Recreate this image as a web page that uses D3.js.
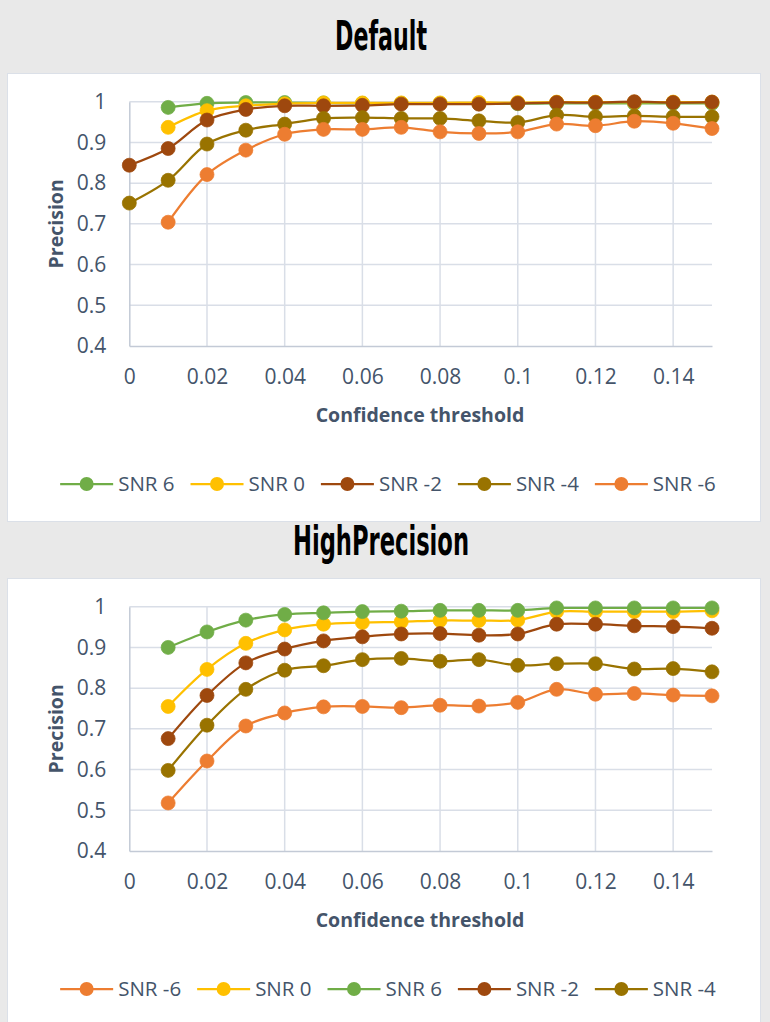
<!DOCTYPE html>
<html>
<head>
<meta charset="utf-8">
<script src="https://cdn.jsdelivr.net/npm/d3@7"></script>
<style>
  html, body { margin: 0; padding: 0; background: #e9e9e9; }
  svg { display: block; }
</style>
</head>
<body>
<svg id="chart" width="770" height="1022"></svg>
<script>
// Confidence thresholds on the x axis
const thresholds = [0, 0.01, 0.02, 0.03, 0.04, 0.05, 0.06, 0.07, 0.08, 0.09, 0.10, 0.11, 0.12, 0.13, 0.14, 0.15];

// Axis ticks
const xTickValues = [0, 0.02, 0.04, 0.06, 0.08, 0.10, 0.12, 0.14];
const xTickLabels = ["0", "0.02", "0.04", "0.06", "0.08", "0.1", "0.12", "0.14"];
const yTickValues = [0.4, 0.5, 0.6, 0.7, 0.8, 0.9, 1.0];
const yTickLabels = ["0.4", "0.5", "0.6", "0.7", "0.8", "0.9", "1"];

// Precision, "Default" model
const defaultSnr6  = [null, 0.986, 0.996, 0.998, 0.998, 0.997, 0.996, 0.996, 0.996, 0.995, 0.995, 0.996, 0.996, 0.996, 0.996, 0.996];
const defaultSnr0  = [null, 0.937, 0.978, 0.990, 0.995, 0.997, 0.997, 0.997, 0.997, 0.998, 0.998, 0.999, 0.999, 0.999, 0.999, 0.999];
const defaultSnrM2 = [0.844, 0.885, 0.955, 0.981, 0.990, 0.990, 0.991, 0.994, 0.994, 0.994, 0.996, 0.998, 0.998, 1.000, 0.998, 0.999];
const defaultSnrM4 = [0.751, 0.807, 0.896, 0.930, 0.945, 0.959, 0.961, 0.959, 0.959, 0.953, 0.949, 0.967, 0.963, 0.965, 0.963, 0.963];
const defaultSnrM6 = [null, 0.704, 0.821, 0.881, 0.920, 0.932, 0.932, 0.937, 0.926, 0.922, 0.926, 0.945, 0.941, 0.952, 0.947, 0.934];

// Precision, "HighPrecision" model
const highSnrM6 = [null, 0.518, 0.621, 0.707, 0.739, 0.754, 0.755, 0.752, 0.758, 0.756, 0.765, 0.797, 0.785, 0.787, 0.783, 0.781];
const highSnr0  = [null, 0.755, 0.846, 0.910, 0.943, 0.957, 0.961, 0.963, 0.966, 0.966, 0.967, 0.988, 0.988, 0.988, 0.988, 0.990];
const highSnr6  = [null, 0.900, 0.938, 0.967, 0.981, 0.985, 0.988, 0.989, 0.991, 0.991, 0.991, 0.997, 0.997, 0.997, 0.997, 0.997];
const highSnrM2 = [null, 0.676, 0.782, 0.862, 0.896, 0.916, 0.926, 0.933, 0.934, 0.930, 0.933, 0.957, 0.957, 0.953, 0.951, 0.947];
const highSnrM4 = [null, 0.598, 0.709, 0.797, 0.844, 0.855, 0.870, 0.873, 0.866, 0.870, 0.856, 0.860, 0.860, 0.847, 0.848, 0.840];

// Series colours
const colors = {
  "SNR 6": "#70ad47",
  "SNR 0": "#ffc000",
  "SNR -2": "#9e480e",
  "SNR -4": "#997300",
  "SNR -6": "#ed7d31"
};

const charts = [
  {
    title: "Default",
    offset: 0,
    series: [
      { name: "SNR 6", values: defaultSnr6 },
      { name: "SNR 0", values: defaultSnr0 },
      { name: "SNR -2", values: defaultSnrM2 },
      { name: "SNR -4", values: defaultSnrM4 },
      { name: "SNR -6", values: defaultSnrM6 }
    ]
  },
  {
    title: "HighPrecision",
    offset: 505,
    series: [
      { name: "SNR -6", values: highSnrM6 },
      { name: "SNR 0", values: highSnr0 },
      { name: "SNR 6", values: highSnr6 },
      { name: "SNR -2", values: highSnrM2 },
      { name: "SNR -4", values: highSnrM4 }
    ]
  }
];

const svg = d3.select("#chart");
const textColor = "#44546a";
const gridColor = "#d9dee7";
const axisColor = "#c3cad6";
const labelFont = "'Open Sans', 'Noto Sans', 'DejaVu Sans', sans-serif";
const titleFont = "'Liberation Sans Narrow', 'DejaVu Sans Condensed', Roboto, 'Liberation Sans', sans-serif";

svg.append("rect").attr("width", 770).attr("height", 1022).attr("fill", "#e9e9e9");

const x = d3.scaleLinear().domain([0, 0.15]).range([129.3, 712]);

charts.forEach(chart => {
  const off = chart.offset;
  const g = svg.append("g").attr("transform", `translate(0,${off})`);

  // Panel
  g.append("rect")
    .attr("x", 7.5).attr("y", 73.5)
    .attr("width", 753).attr("height", 448)
    .attr("fill", "#ffffff")
    .attr("stroke", "#dbe0e8").attr("stroke-width", 1);

  // Title
  g.append("text")
    .attr("x", 381).attr("y", 50)
    .attr("text-anchor", "middle")
    .attr("font-family", titleFont)
    .attr("font-weight", "bold")
    .attr("font-size", 41)
    .attr("fill", "#000000")
    .attr("textLength", chart.title === "Default" ? 92 : 176)
    .attr("lengthAdjust", "spacingAndGlyphs")
    .text(chart.title);

  const y = d3.scaleLinear().domain([0.4, 1]).range([346, 101.7]);

  // Horizontal gridlines
  g.append("g").selectAll("line")
    .data(yTickValues.filter(v => v > 0.4))
    .join("line")
    .attr("x1", x(0)).attr("x2", x(0.15))
    .attr("y1", d => y(d)).attr("y2", d => y(d))
    .attr("stroke", gridColor).attr("stroke-width", 1.5);

  // Vertical gridlines
  g.append("g").selectAll("line")
    .data(xTickValues.filter(v => v > 0))
    .join("line")
    .attr("x1", d => x(d)).attr("x2", d => x(d))
    .attr("y1", y(1)).attr("y2", y(0.4))
    .attr("stroke", gridColor).attr("stroke-width", 1.5);

  // Axes
  const yAxis = d3.axisLeft(y)
    .tickValues(yTickValues)
    .tickFormat((d, i) => yTickLabels[i])
    .tickSize(0).tickPadding(23);
  const yg = g.append("g").attr("transform", `translate(${x(0)},0)`).call(yAxis);
  yg.select(".domain").attr("stroke", axisColor).attr("stroke-width", 1.5);
  yg.selectAll("text")
    .attr("font-family", labelFont).attr("font-size", 21)
    .attr("fill", textColor);

  const xAxis = d3.axisBottom(x)
    .tickValues(xTickValues)
    .tickFormat((d, i) => xTickLabels[i])
    .tickSize(0).tickPadding(23);
  const xg = g.append("g").attr("transform", `translate(0,${y(0.4)})`).call(xAxis);
  xg.select(".domain").attr("stroke", axisColor).attr("stroke-width", 1.5);
  xg.selectAll("text")
    .attr("font-family", labelFont).attr("font-size", 21)
    .attr("fill", textColor);

  // Axis titles
  g.append("text")
    .attr("transform", `translate(63,${(y(1) + y(0.4)) / 2}) rotate(-90)`)
    .attr("text-anchor", "middle")
    .attr("font-family", labelFont).attr("font-weight", "bold")
    .attr("font-size", 19.5).attr("fill", textColor)
    .text("Precision");

  g.append("text")
    .attr("x", 420).attr("y", 421.7)
    .attr("text-anchor", "middle")
    .attr("font-family", labelFont).attr("font-weight", "bold")
    .attr("font-size", 19.5).attr("fill", textColor)
    .text("Confidence threshold");

  // Series lines and markers
  const line = d3.line()
    .defined(d => d.v != null)
    .x(d => x(d.t))
    .y(d => y(d.v))
    .curve(d3.curveCatmullRom.alpha(0.5));

  chart.series.forEach(s => {
    const pts = thresholds.map((t, i) => ({ t, v: s.values[i] }));
    const color = colors[s.name];
    const sg = g.append("g");
    sg.append("path")
      .datum(pts)
      .attr("d", line)
      .attr("fill", "none")
      .attr("stroke", color)
      .attr("stroke-width", 2.25);
    sg.selectAll("circle")
      .data(pts.filter(d => d.v != null))
      .join("circle")
      .attr("cx", d => x(d.t))
      .attr("cy", d => y(d.v))
      .attr("r", 7)
      .attr("fill", color)
      .attr("stroke", color)
      .attr("stroke-width", 0.75);
  });

  // Legend
  const legend = g.append("g").attr("transform", "translate(0,484)");
  const items = legend.selectAll("g.item")
    .data(chart.series)
    .join("g").attr("class", "item");
  items.append("line")
    .attr("x1", 0).attr("x2", 53).attr("y1", 0).attr("y2", 0)
    .attr("stroke", d => colors[d.name]).attr("stroke-width", 2.25);
  items.append("circle")
    .attr("cx", 26.5).attr("cy", 0).attr("r", 7)
    .attr("fill", d => colors[d.name]);
  items.append("text")
    .attr("x", 58).attr("y", 0).attr("dy", "0.36em")
    .attr("font-family", labelFont).attr("font-size", 20.5)
    .attr("fill", textColor)
    .text(d => d.name);

  const gap = 16;
  const widths = [];
  items.each(function() {
    widths.push(58 + d3.select(this).select("text").node().getComputedTextLength());
  });
  const total = d3.sum(widths) + gap * (widths.length - 1);
  let cx = 388 - total / 2;
  items.each(function(d, i) {
    d3.select(this).attr("transform", `translate(${cx},0)`);
    cx += widths[i] + gap;
  });
});
</script>
</body>
</html>
